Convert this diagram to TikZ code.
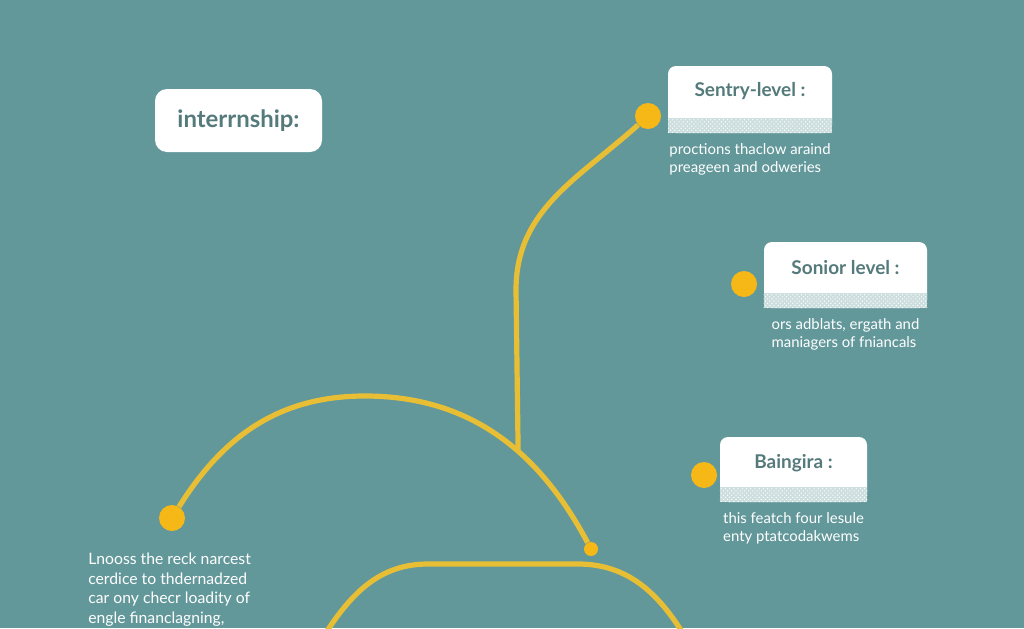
\documentclass[tikz,border=0pt]{standalone}
\usepackage{fontspec}
\setmainfont{Lato}
\usetikzlibrary{positioning,patterns}

\definecolor{tealbg}{RGB}{99,152,155}
\definecolor{curvecol}{RGB}{232,190,52}
\definecolor{dotcol}{RGB}{246,184,22}
\definecolor{titlecol}{RGB}{84,122,124}
\definecolor{stripbg}{RGB}{205,222,222}

\begin{document}
\begin{tikzpicture}[x = 0.25mm, y = -0.25mm]
    \clip (0, 0) rectangle (1024, 628);
    \fill[tealbg] (0, 0) rectangle (1024, 628);

    \tikzstyle{card} = [fill = white, rounded corners = 2mm, inner sep = 0pt, text = titlecol, font = \fontsize{13.5}{15}\selectfont\bfseries]
    \tikzstyle{dot} = [circle, fill = dotcol, inner sep = 0pt, minimum size = 6.5mm]
    \tikzstyle{body} = [text = white, align = left, inner sep = 0pt, font = \fontsize{10.6}{13}\selectfont]
    \tikzstyle{track} = [draw = curvecol, line width = 1.3mm]

    \node[card, rounded corners = 3mm, minimum width = 41.75mm, minimum height = 15.75mm, font = \fontsize{17}{19}\selectfont\bfseries] (intern) at (238.5, 120.5) {interrnship:};

    \node[card, minimum width = 41mm, text height = 7.5mm, text depth = 9.25mm] (sentry) at (750, 99.5) {Sentry-level :};
    \node[card, minimum width = 40.75mm, text height = 8mm, text depth = 8.5mm] (sonior) at (845.5, 275) {Sonior level :};
    \node[card, minimum width = 36.75mm, text height = 7.75mm, text depth = 8.5mm] (baingira) at (793.5, 469.5) {Baingira :};

    \foreach \c in {sentry, sonior, baingira} {
        \fill[stripbg] ([yshift = 3.75mm]\c.south west) rectangle (\c.south east);
        \fill[pattern = crosshatch dots, pattern color = white] ([yshift = 3.75mm]\c.south west) rectangle (\c.south east);
    }

    \node[body, below = 2.5mm of sentry] (sentrytxt) {proctions thaclow araind\\preageen and odweries};
    \node[body, below = 2.5mm of sonior] (soniortxt) {ors adblats, ergath and\\maniagers of fniancals};
    \node[body, below = 2.5mm of baingira] (baingiratxt) {this featch four lesule\\enty ptatcodakwems};

    \node[body, anchor = north west, font = \fontsize{11.2}{13.8}\selectfont] (note) at (88, 553) {Lnooss the reck narcest\\cerdice to thdernadzed\\car ony checr loadity of\\engle financlagning,};

    \node[dot] (startdot) at (172, 518) {};
    \node[dot] (sentrydot) at (648, 116) {};
    \node[dot] (soniordot) at (744, 284) {};
    \node[dot] (baingiradot) at (704, 475) {};
    \node[dot, minimum size = 3.5mm] (enddot) at (591, 549) {};

    \draw[track] (startdot) to[out = 58, in = 180] (365, 396) to[out = 0, in = 118] coordinate[pos = 0.6] (fork) (enddot);
    \draw[track] (fork) -- (516, 290) to[out = 90, in = 222] (sentrydot);
    \draw[track] (318, 645) to[out = 58, in = 180] (428, 564) -- (578, 564) to[out = 0, in = 120] (690, 645);
\end{tikzpicture}
\end{document}
